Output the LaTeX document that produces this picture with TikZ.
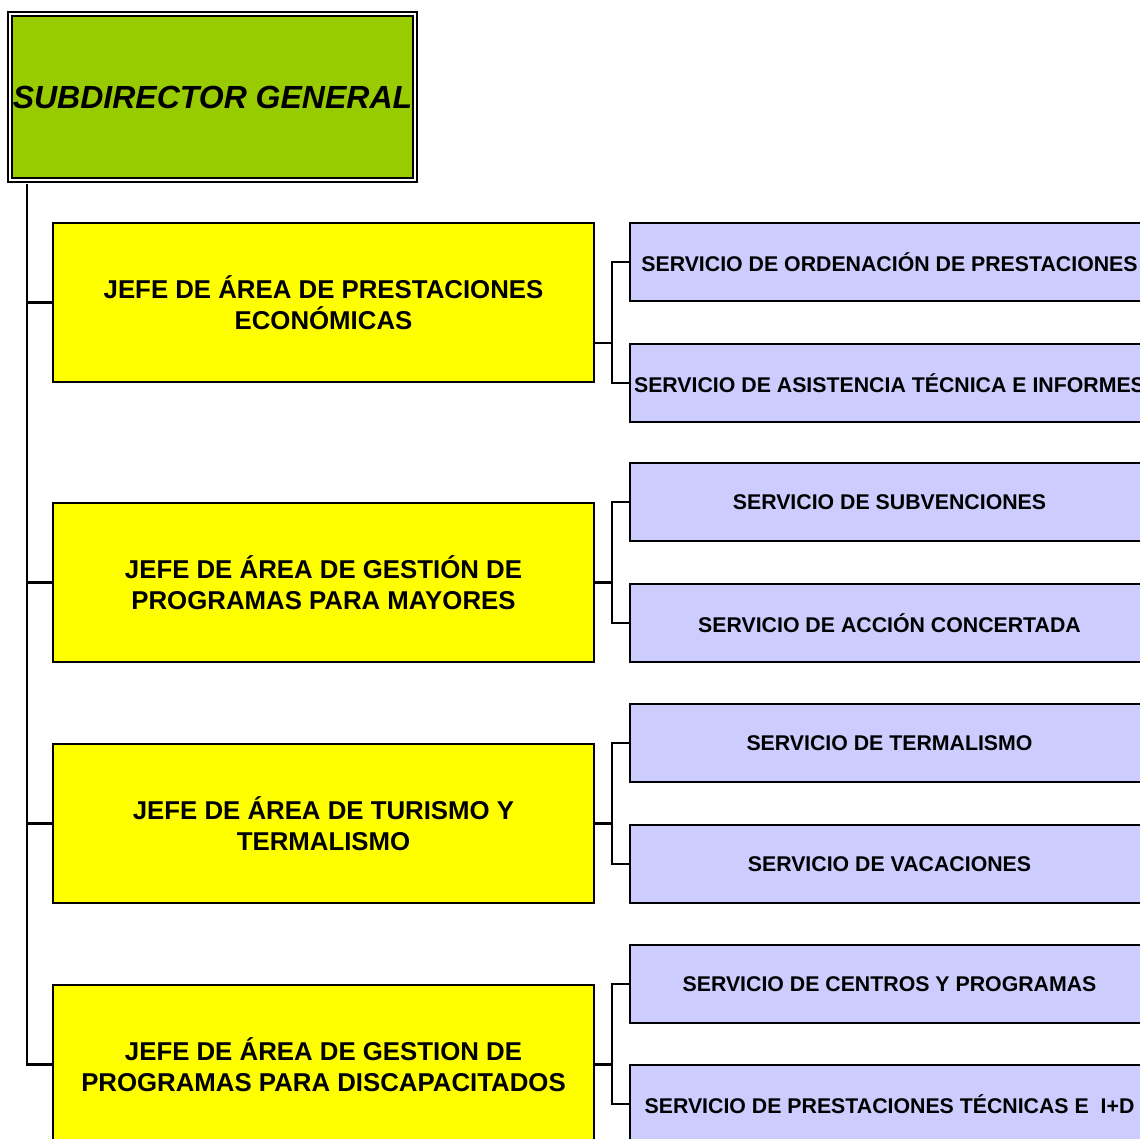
\documentclass[tikz,border=0pt]{standalone}
\usepackage{fontspec}
\setmainfont{Liberation Sans}
\usetikzlibrary{positioning}

\definecolor{subgreen}{HTML}{99CC00}
\definecolor{jefeyellow}{HTML}{FFFF00}
\definecolor{servlilac}{HTML}{CCCCFF}

\begin{document}
\begin{tikzpicture}[x=1pt,y=-1pt,
    jefe/.style={draw,line width=2.2pt,fill=jefeyellow,minimum width=541pt,minimum height=159pt,
        align=center,font=\bfseries\fontsize{25.8}{31}\selectfont,inner sep=0pt},
    serv/.style={draw,line width=2.2pt,fill=servlilac,minimum width=519pt,minimum height=78pt,
        font=\bfseries\fontsize{21.3}{24}\selectfont,inner sep=0pt},
    link/.style={line width=2.4pt}]

    \clip (0,0) rectangle (1140,1138);

    %%%%%%%%%%%%%%%%%%%%%%%%%%%%%%%%%%%%%%%%%%%%%%%%%%%%%%

    % subdirector general
    \node[draw,line width=2.2pt,double,double distance=1.8pt,fill=subgreen,minimum width=405pt,minimum height=166pt,
        font=\bfseries\itshape\fontsize{32}{38}\selectfont,inner sep=0pt] (sub) at (212.5,97) {SUBDIRECTOR GENERAL};
    \coordinate (trunk) at (27,184);

    %%%%%%%%%%%%%%%%%%%%%%%%%%%%%%%%%%%%%%%%%%%%%%%%%%%%%%

    % jefes de area
    \node[jefe] (jprest) at (323.5,302.5) {JEFE DE ÁREA DE PRESTACIONES\\ECONÓMICAS};
    \node[jefe] (jmayor) at (323.5,582.5) {JEFE DE ÁREA DE GESTIÓN DE\\PROGRAMAS PARA MAYORES};
    \node[jefe] (jturis) at (323.5,823.5) {JEFE DE ÁREA DE TURISMO Y\\TERMALISMO};
    \node[jefe] (jdisca) at (323.5,1064.5) {JEFE DE ÁREA DE GESTION DE\\PROGRAMAS PARA DISCAPACITADOS};

    % trunk and branches
    \draw[link] (trunk) |- (jdisca.west);
    \draw[link] (trunk |- jprest.west) -- (jprest.west);
    \draw[link] (trunk |- jmayor.west) -- (jmayor.west);
    \draw[link] (trunk |- jturis.west) -- (jturis.west);

    %%%%%%%%%%%%%%%%%%%%%%%%%%%%%%%%%%%%%%%%%%%%%%%%%%%%%%

    % servicios
    \node[serv] (sorden) at (889.5,262) {SERVICIO DE ORDENACIÓN DE PRESTACIONES};
    \node[serv] (sasist) at (889.5,383) {SERVICIO DE ASISTENCIA TÉCNICA E INFORMES};
    \node[serv] (ssubv) at (889.5,502) {SERVICIO DE SUBVENCIONES};
    \node[serv] (sconc) at (889.5,623) {SERVICIO DE ACCIÓN CONCERTADA};
    \node[serv] (sterm) at (889.5,743) {SERVICIO DE TERMALISMO};
    \node[serv] (svaca) at (889.5,864) {SERVICIO DE VACACIONES};
    \node[serv] (scentr) at (889.5,984) {SERVICIO DE CENTROS Y PROGRAMAS};
    \node[serv] (spidi) at (889.5,1104) {SERVICIO DE PRESTACIONES TÉCNICAS E \ I+D};

    % brackets to servicios
    \draw[link] (sorden.west) -- ++(-17,0) |- (sasist.west);
    \draw[link] ([yshift=-40.5pt]jprest.east) -- ++(17,0);
    \draw[link] (ssubv.west) -- ++(-17,0) |- (sconc.west);
    \draw[link] (jmayor.east) -- ++(17,0);
    \draw[link] (sterm.west) -- ++(-17,0) |- (svaca.west);
    \draw[link] (jturis.east) -- ++(17,0);
    \draw[link] (scentr.west) -- ++(-17,0) |- (spidi.west);
    \draw[link] (jdisca.east) -- ++(17,0);

\end{tikzpicture}
\end{document}
